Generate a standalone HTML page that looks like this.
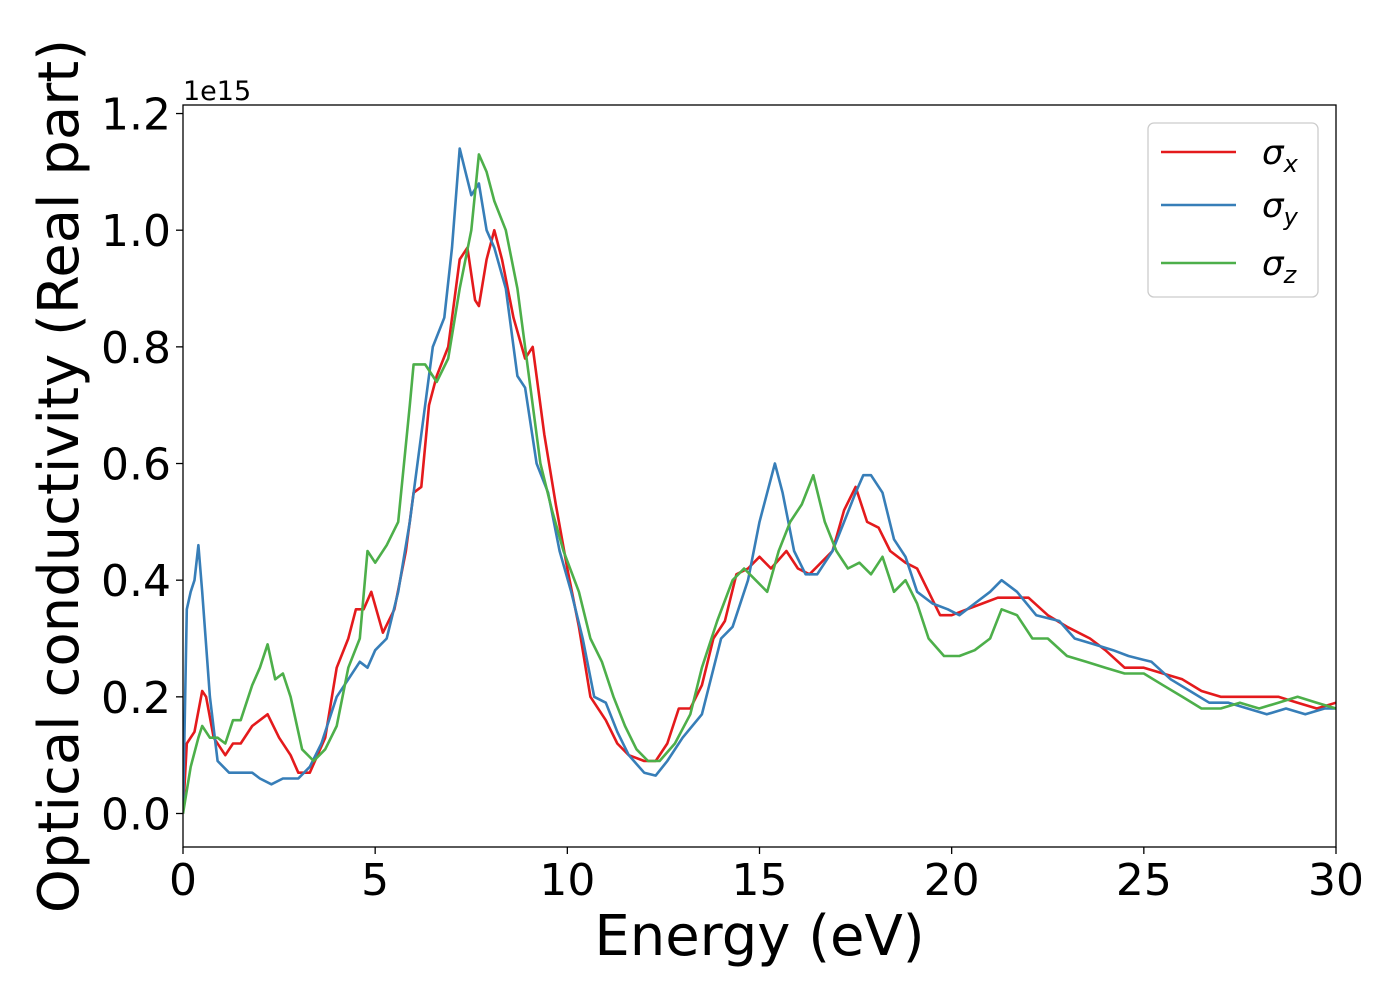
<!DOCTYPE html>
<html><head><meta charset="utf-8"><style>
body{margin:0;background:#fff;}
svg text{font-family:"DejaVu Sans","Liberation Sans",sans-serif;fill:#000;}
</style></head><body>
<svg id="chart" width="1400" height="1000" xmlns="http://www.w3.org/2000/svg">
<g id="plot"></g>
</svg>
<script>
const xTicks=[0,5,10,15,20,25,30];
const yTicks=[0.0,0.2,0.4,0.6,0.8,1.0,1.2];
const yTickLabels=["0.0","0.2","0.4","0.6","0.8","1.0","1.2"];
const seriesNames=["σx","σy","σz"];
const redE=[0,0.1,0.3,0.5,0.6,0.8,1.1,1.3,1.5,1.8,2.2,2.5,2.8,3.0,3.3,3.7,4.0,4.3,4.5,4.7,4.9,5.2,5.5,5.8,6.0,6.2,6.4,6.6,6.9,7.2,7.4,7.6,7.7,7.9,8.1,8.3,8.6,8.9,9.1,9.4,9.7,10.0,10.3,10.6,11.0,11.3,11.6,12.0,12.3,12.6,12.9,13.2,13.5,13.8,14.1,14.4,14.7,15.0,15.3,15.7,16.0,16.3,16.6,16.9,17.2,17.5,17.8,18.1,18.4,18.8,19.1,19.4,19.7,20.0,20.4,20.8,21.2,21.6,22.0,22.5,23.0,23.6,24.0,24.5,25.0,25.5,26.0,26.5,27.0,27.5,28.0,28.5,29.0,29.5,30];
const redV=[0,0.12,0.14,0.21,0.2,0.13,0.1,0.12,0.12,0.15,0.17,0.13,0.1,0.07,0.07,0.13,0.25,0.3,0.35,0.35,0.38,0.31,0.35,0.45,0.55,0.56,0.7,0.75,0.8,0.95,0.97,0.88,0.87,0.95,1.0,0.95,0.85,0.78,0.8,0.65,0.53,0.42,0.32,0.2,0.16,0.12,0.1,0.09,0.09,0.12,0.18,0.18,0.22,0.3,0.33,0.41,0.42,0.44,0.42,0.45,0.42,0.41,0.43,0.45,0.52,0.56,0.5,0.49,0.45,0.43,0.42,0.38,0.34,0.34,0.35,0.36,0.37,0.37,0.37,0.34,0.32,0.3,0.28,0.25,0.25,0.24,0.23,0.21,0.2,0.2,0.2,0.2,0.19,0.18,0.19];
const blueE=[0,0.1,0.2,0.3,0.4,0.5,0.7,0.9,1.2,1.5,1.8,2.0,2.3,2.6,3.0,3.3,3.6,4.0,4.3,4.6,4.8,5.0,5.3,5.6,5.9,6.2,6.5,6.8,7.0,7.2,7.35,7.5,7.7,7.9,8.1,8.4,8.7,8.9,9.2,9.5,9.8,10.1,10.4,10.7,11.0,11.3,11.6,12.0,12.3,12.6,13.0,13.5,14.0,14.3,14.7,15.0,15.2,15.4,15.6,15.9,16.2,16.5,16.9,17.2,17.5,17.7,17.9,18.2,18.5,18.8,19.1,19.5,19.9,20.2,20.6,21.0,21.3,21.7,22.2,22.8,23.2,23.7,24.2,24.6,25.2,25.7,26.2,26.7,27.2,27.7,28.2,28.7,29.2,29.7,30];
const blueV=[0,0.35,0.38,0.4,0.46,0.38,0.2,0.09,0.07,0.07,0.07,0.06,0.05,0.06,0.06,0.08,0.12,0.2,0.23,0.26,0.25,0.28,0.3,0.38,0.5,0.65,0.8,0.85,0.97,1.14,1.1,1.06,1.08,1.0,0.97,0.9,0.75,0.73,0.6,0.55,0.45,0.38,0.3,0.2,0.19,0.14,0.1,0.07,0.065,0.09,0.13,0.17,0.3,0.32,0.4,0.5,0.55,0.6,0.55,0.45,0.41,0.41,0.45,0.5,0.55,0.58,0.58,0.55,0.47,0.44,0.38,0.36,0.35,0.34,0.36,0.38,0.4,0.38,0.34,0.33,0.3,0.29,0.28,0.27,0.26,0.23,0.21,0.19,0.19,0.18,0.17,0.18,0.17,0.18,0.18];
const greenE=[0,0.2,0.4,0.5,0.7,0.9,1.1,1.3,1.5,1.8,2.0,2.2,2.4,2.6,2.8,3.1,3.4,3.7,4.0,4.3,4.6,4.8,5.0,5.3,5.6,5.9,6.0,6.3,6.6,6.9,7.2,7.5,7.7,7.9,8.1,8.4,8.7,9.0,9.3,9.6,9.9,10.3,10.6,10.9,11.2,11.5,11.8,12.1,12.4,12.8,13.2,13.5,13.9,14.3,14.6,14.9,15.2,15.5,15.8,16.1,16.4,16.7,17.0,17.3,17.6,17.9,18.2,18.5,18.8,19.1,19.4,19.8,20.2,20.6,21.0,21.3,21.7,22.1,22.5,23.0,23.5,24.0,24.5,25.0,25.5,26.0,26.5,27.0,27.5,28.0,28.5,29.0,29.5,30];
const greenV=[0,0.08,0.13,0.15,0.13,0.13,0.12,0.16,0.16,0.22,0.25,0.29,0.23,0.24,0.2,0.11,0.09,0.11,0.15,0.25,0.3,0.45,0.43,0.46,0.5,0.7,0.77,0.77,0.74,0.78,0.9,1.0,1.13,1.1,1.05,1.0,0.9,0.75,0.6,0.52,0.45,0.38,0.3,0.26,0.2,0.15,0.11,0.09,0.09,0.12,0.17,0.25,0.33,0.4,0.42,0.4,0.38,0.45,0.5,0.53,0.58,0.5,0.45,0.42,0.43,0.41,0.44,0.38,0.4,0.36,0.3,0.27,0.27,0.28,0.3,0.35,0.34,0.3,0.3,0.27,0.26,0.25,0.24,0.24,0.22,0.2,0.18,0.18,0.19,0.18,0.19,0.2,0.19,0.18];

const NS="http://www.w3.org/2000/svg";
const L=183,R=1336,T=105,B=847;
const xs=e=>L+e/30*(R-L);
const ys=v=>813.5-v*583.3;
const g=document.getElementById('plot');
function mk(tag,attrs,parent){const el=document.createElementNS(NS,tag);for(const k in attrs)el.setAttribute(k,attrs[k]);(parent||g).appendChild(el);return el;}

function drawLine(E,V,color,name){
  let d='';
  E.forEach((e,i)=>{d+=(i?'L':'M')+xs(e).toFixed(1)+','+ys(V[i]).toFixed(1);});
  const p=mk('path',{d:d,fill:'none',stroke:color,'stroke-width':2.6,'stroke-linejoin':'round','clip-path':'url(#clip)'});
  
  
}
const defs=mk('defs',{});
const cp=mk('clipPath',{id:'clip'},defs);
mk('rect',{x:L,y:T,width:R-L,height:B-T},cp);

drawLine(redE,redV,'#e41a1c','series-sigma-x');
drawLine(blueE,blueV,'#377eb8','series-sigma-y');
drawLine(greenE,greenV,'#4daf4a','series-sigma-z');

const frame=mk('rect',{x:L,y:T,width:R-L,height:B-T,fill:'none',stroke:'#000','stroke-width':1.3});



xTicks.forEach(t=>{
  const x=xs(t);
  mk('line',{x1:x,x2:x,y1:B,y2:B+7,stroke:'#000','stroke-width':1.3});
  const tx=mk('text',{x:x,y:B+48,'text-anchor':'middle','font-size':44});
  tx.textContent=t;
  
  
});
yTicks.forEach((t,i)=>{
  const y=ys(t);
  mk('line',{x1:L-7,x2:L,y1:y,y2:y,stroke:'#000','stroke-width':1.3});
  const tx=mk('text',{x:L-12,y:y+16,'text-anchor':'end','font-size':44});
  tx.textContent=yTickLabels[i];
  
  
});
const off=mk('text',{x:183,y:100,'font-size':27});
off.textContent='1e15';


const xl=mk('text',{x:(L+R)/2,y:955,'text-anchor':'middle','font-size':56});
xl.textContent='Energy (eV)';


const yl=mk('text',{x:0,y:0,'text-anchor':'middle','font-size':56,transform:'translate(78,476) rotate(-90)'});
yl.textContent='Optical conductivity (Real part)';



const lg=mk('g',{});


mk('rect',{x:1148,y:123,width:170,height:174,rx:6,fill:'#fff','fill-opacity':0.8,stroke:'#ccc','stroke-width':1.3},lg);
const lc=['#e41a1c','#377eb8','#4daf4a'];
const ly=[152,205,263];
const subs=['x','y','z'];
seriesNames.forEach((n,i)=>{
  const row=mk('g',{},lg);
  
  
  mk('line',{x1:1161,x2:1236,y1:ly[i],y2:ly[i],stroke:lc[i],'stroke-width':2.6},row);
  const t=mk('text',{x:1262,y:ly[i]+12,'font-size':34,'font-style':'italic'},row);
  t.textContent='σ';
  const s=mk('tspan',{'font-size':24,dy:8},t);
  s.textContent=subs[i];
});
</script>
</body></html>
